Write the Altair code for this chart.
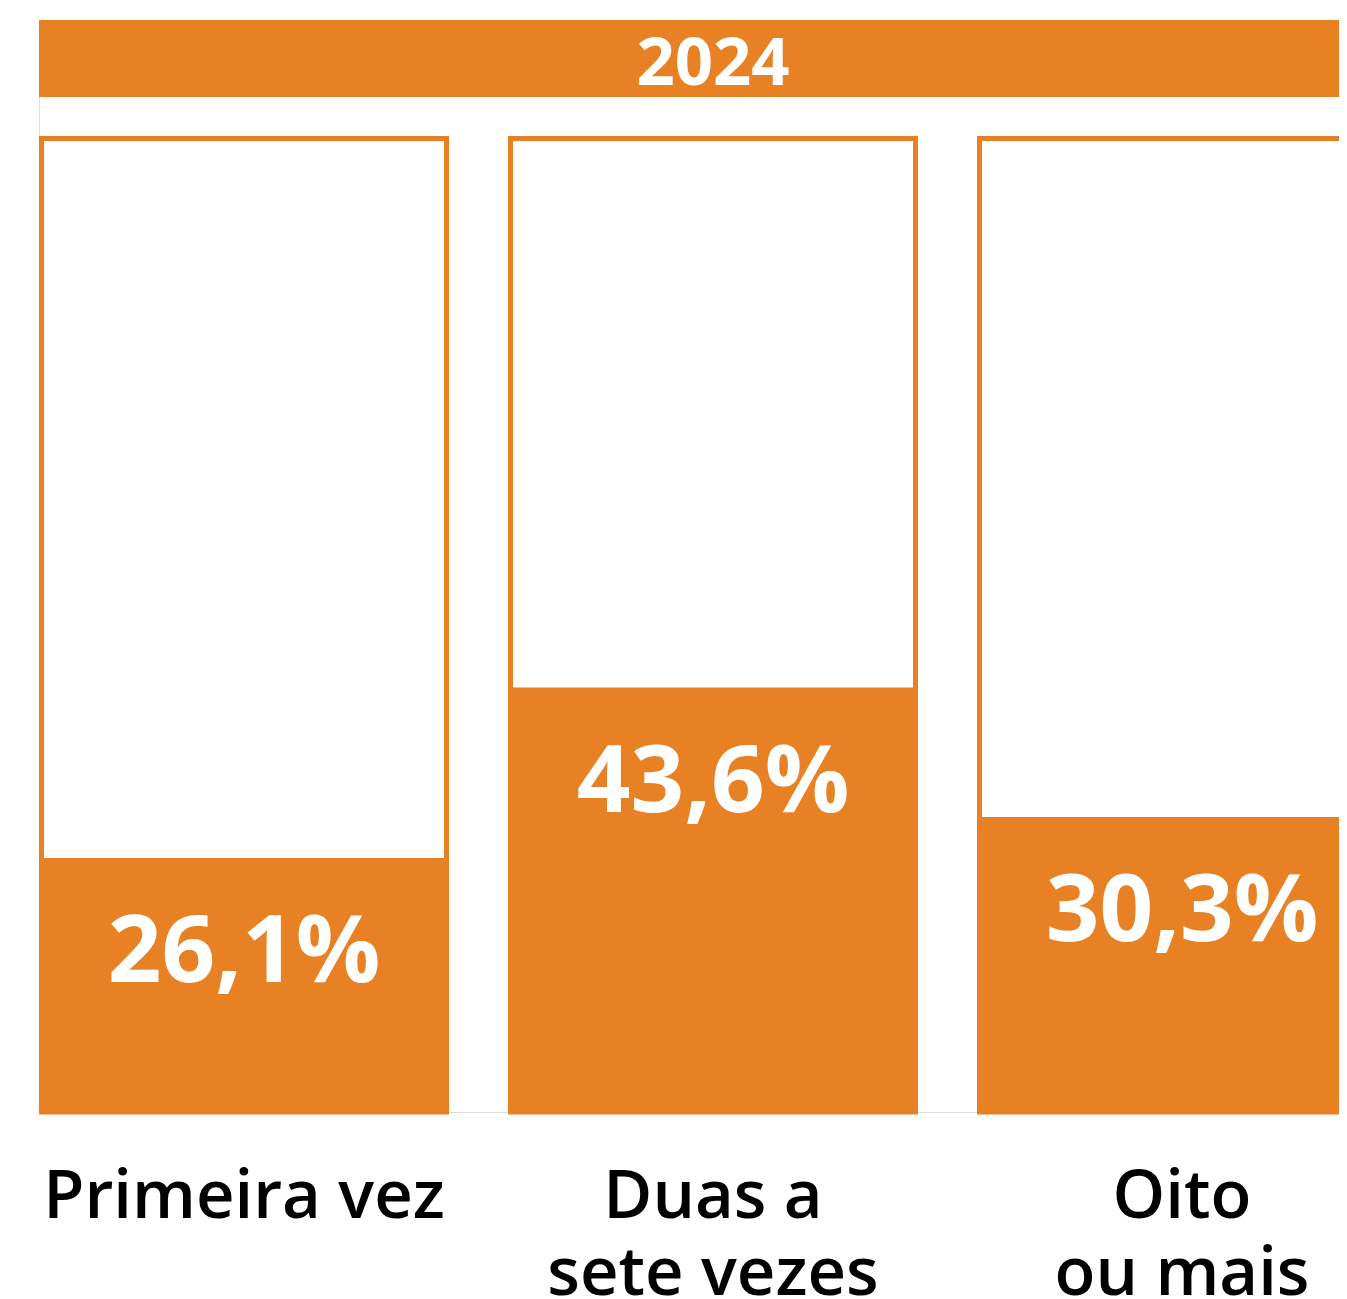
import altair as alt
import pandas as pd

categories = ["Primeira vez", "Duas a\nsete vezes", "Oito\nou mais"]
values = [26.1, 43.6, 30.3]
labels = ["26,1%", "43,6%", "30,3%"]
year = ["2024"]

ORANGE = "#E88024"
FONT = "Open Sans"

df = pd.DataFrame({"cat": categories, "val": values, "lab": labels, "full": [100] * 3})
hdr = pd.DataFrame({"year": year})

W = 1300      # visible plot width (third bar is cut by the page edge)
FULLW = 1348  # full band range
H = 1092      # from header top to bar bottom

xenc = alt.X(
    "cat:N",
    sort=categories,
    scale=alt.Scale(paddingInner=0.1258, paddingOuter=0, range=[0, FULLW]),
    axis=alt.Axis(
        title=None,
        domain=False,
        ticks=False,
        grid=False,
        labelAngle=0,
        labelFont=FONT,
        labelFontSize=67,
        labelFontWeight=600,
        labelColor="#000000",
        labelPadding=52,
        labelLineHeight=77,
        labelBaseline="top",
        labelLimit=0,
        labelExpr="split(datum.label, '\\n')",
    ),
)
yscale = alt.Scale(domain=[0, 100], range=[H, 118.5])

base = alt.Chart(df)
frame = base.mark_bar(fill="white", stroke=ORANGE, strokeWidth=5, size=405).encode(
    x=xenc, y=alt.Y("full:Q", scale=yscale, axis=None)
)
fill = base.mark_bar(color=ORANGE).encode(
    x=xenc, y=alt.Y("val:Q", scale=yscale, axis=None)
)
text = base.mark_text(
    color="white", font=FONT, fontSize=94, fontWeight="bold", baseline="middle", dy=96
).encode(x=xenc, y=alt.Y("val:Q", scale=yscale, axis=None), text="lab:N")

hbase = alt.Chart(hdr)
header_rect = hbase.mark_rect(color=ORANGE).encode(
    x=alt.value(0), x2=alt.value(FULLW), y=alt.value(0), y2=alt.value(77)
)
header_text = hbase.mark_text(
    color="white", font=FONT, fontSize=67, fontWeight="bold", baseline="middle"
).encode(x=alt.value(FULLW / 2), y=alt.value(45), text="year:N")

chart = (
    alt.layer(header_rect, header_text, frame, fill, text)
    .properties(
        width=W,
        height=H,
        autosize=alt.AutoSizeParams(type="none"),
        padding={"left": 31, "top": 12, "right": 0, "bottom": 187},
    )
    .configure_view(stroke=None, fill=None)
    .configure(background="white")
)

chart.save("out.html", embed_options={"renderer": "svg", "actions": False})
